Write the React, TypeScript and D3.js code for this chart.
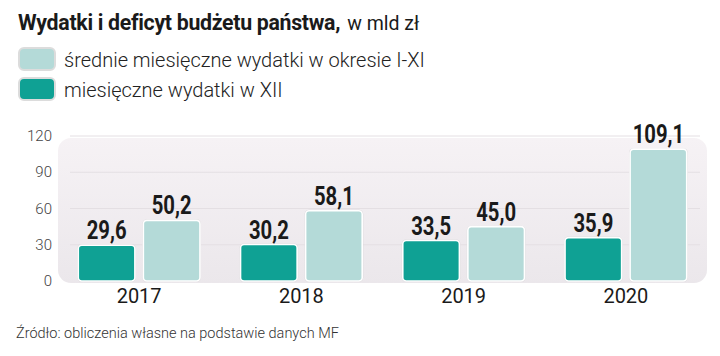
import React from "react";
import * as d3 from "d3";

const years = ["2017", "2018", "2019", "2020"];
const decemberSpending = [29.6, 30.2, 33.5, 35.9];
const avgSpendingJanNov = [50.2, 58.1, 45.0, 109.1];
const yTicks = [0, 30, 60, 90, 120];
const legendLabels = ["średnie miesięczne wydatki w okresie I-XI", "miesięczne wydatki w XII"];

const DARK = "#0fa194";
const LIGHT = "#b4dad8";

export default function App() {
  const W = 720, H = 356;
  const x = d3.scaleBand().domain(years).range([58, 707]).paddingInner(0.25).paddingOuter(0.125);
  const y = d3.scaleLinear().domain([0, 120]).range([281, 136]);
  const inner = d3.scaleBand().domain(["d", "l"]).range([0, x.bandwidth()]).paddingInner(0.13);
  const fmt = (v: number) => v.toFixed(1).replace(".", ",");
  const labelFont = "Roboto, sans-serif";
  const lightFont = "Roboto, 'Open Sans', sans-serif";

  const bars: { year: string; key: string; v: number; color: string }[] = [];
  years.forEach((yr, i) => {
    bars.push({ year: yr, key: "d", v: decemberSpending[i], color: DARK });
    bars.push({ year: yr, key: "l", v: avgSpendingJanNov[i], color: LIGHT });
  });

  return (
    <svg width={W} height={H} style={{ display: "block", position: "absolute", left: 0, top: 0, background: "#fff" }}>
      <defs>
        <linearGradient id="bg" x1="0" y1="0" x2="0" y2="1">
          <stop offset="0" stopColor="#f6f2f5" />
          <stop offset="1" stopColor="#ebe7eb" />
        </linearGradient>
      </defs>
      <text x={18} y={30} fontFamily="Roboto, sans-serif" fontSize={21.3} fill="#1a1a1a">
        <tspan fontWeight={700} letterSpacing={-0.3}>Wydatki i deficyt budżetu państwa,</tspan>
        <tspan dx={7} fontWeight={400} fontSize={19.5}>w mld zł</tspan>
      </text>
      {legendLabels.map((lab, i) => (
        <g key={lab} transform={`translate(0, ${i * 30})`}>
          <rect x={19} y={48} width={36} height={22} rx={5} fill={i === 0 ? LIGHT : DARK} stroke="#dcdcdc" strokeWidth={2} />
          <text x={64} y={67} fontFamily={lightFont} fontWeight={300} fontSize={20} fill="#222">{lab}</text>
        </g>
      ))}
      <rect x={58} y={138} width={649} height={145} rx={13} fill="url(#bg)" />
      {yTicks.filter(t => t > 0).map(t => (
        <line key={t} x1={70} x2={700} y1={y(t)} y2={y(t)} stroke="#e4dfe3" strokeWidth={1} />
      ))}
      {yTicks.map(t => (
        <text key={t} x={52} y={y(t) + 5} textAnchor="end" fontFamily={lightFont} fontWeight={300} fontSize={15} fill="#444">{t}</text>
      ))}
      {bars.map(b => {
        const bx = (x(b.year) as number) + (inner(b.key) as number);
        const bw = inner.bandwidth();
        const top = y(b.v);
        const cx = bx + bw / 2;
        return (
          <g key={b.year + b.key}>
            <rect x={bx - 1} y={top - 1} width={bw + 2} height={y(0) - top + 2} rx={4.5} fill="#d6d3d6" />
            <rect x={bx} y={top} width={bw} height={y(0) - top} rx={3.5} fill={b.color} stroke="#fff" strokeWidth={1.6} />
            <text transform={`translate(${cx}, ${top - 6}) scale(0.78, 1)`} textAnchor="middle" fontFamily={labelFont} fontWeight={700} fontSize={26} fill="#1a1a1a">{fmt(b.v)}</text>
          </g>
        );
      })}
      {years.map(yr => (
        <text key={yr} x={(x(yr) as number) + x.bandwidth() / 2} y={303} textAnchor="middle" fontFamily={lightFont} fontWeight={400} fontSize={20} fill="#1a1a1a">{yr}</text>
      ))}
      <text x={16} y={338} fontFamily={lightFont} fontWeight={300} fontSize={14.5} fill="#333">Źródło: obliczenia własne na podstawie danych MF</text>
    </svg>
  );
}
